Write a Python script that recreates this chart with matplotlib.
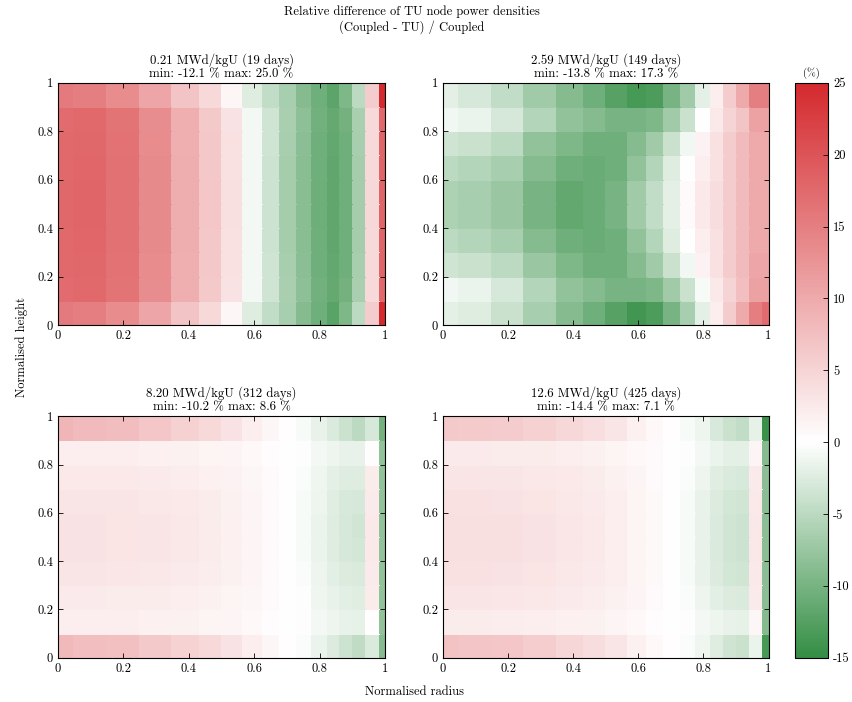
import numpy as np
import matplotlib
matplotlib.use('Agg')
import matplotlib.pyplot as plt
from matplotlib.colors import LinearSegmentedColormap, Normalize
from matplotlib.ticker import FormatStrFormatter

plt.rcParams['font.family'] = ['cmr10', 'DejaVu Serif']
plt.rcParams['mathtext.fontset'] = 'cm'
plt.rcParams['axes.formatter.use_mathtext'] = True
plt.rcParams['font.size'] = 9

# radial and axial node edges (normalised)
r_edges = [0, 0.05, 0.15, 0.25, 0.35, 0.433, 0.5, 0.567, 0.626, 0.679,
           0.73, 0.778, 0.824, 0.862, 0.902, 0.942, 0.984, 1.0]
z_edges = [0, 0.1, 0.2, 0.3, 0.4, 0.5, 0.6, 0.7, 0.8, 0.9, 1.0]

titles = ['0.21 MWd/kgU (19 days)', '2.59 MWd/kgU (149 days)',
          '8.20 MWd/kgU (312 days)', '12.6 MWd/kgU (425 days)']

# relative difference (%), rows from bottom (z=0) to top (z=1)
diff_021 = [
    [15.5, 15.0, 13.5, 10.5, 7.0, 4.5, 1.0, -2.5, -4.5, -6.5, -9.0, -10.5, -12.1, -9.5, -5.0, 6.0, 25.0],
    [17.3, 17.6, 16.3, 13.4, 9.4, 6.4, 3.4, -0.8, -3.5, -6.4, -8.4, -10.4, -11.4, -10.3, -6.4, 4.4, 17.5],
    [17.5, 17.8, 16.5, 13.5, 9.5, 6.5, 3.5, -0.8, -3.5, -6.5, -8.5, -10.5, -11.5, -10.5, -6.5, 4.5, 18.0],
    [17.6, 17.9, 16.6, 13.6, 9.6, 6.5, 3.5, -0.9, -3.6, -6.6, -8.6, -10.6, -11.6, -10.6, -6.6, 4.5, 18.0],
    [17.7, 18.0, 16.7, 13.7, 9.6, 6.6, 3.6, -0.9, -3.6, -6.6, -8.6, -10.7, -11.7, -10.6, -6.6, 4.6, 18.0],
    [17.7, 18.0, 16.7, 13.7, 9.6, 6.6, 3.6, -0.9, -3.6, -6.6, -8.6, -10.7, -11.7, -10.6, -6.6, 4.6, 18.0],
    [17.6, 17.9, 16.6, 13.6, 9.6, 6.5, 3.5, -0.9, -3.6, -6.6, -8.6, -10.6, -11.6, -10.6, -6.6, 4.5, 18.0],
    [17.5, 17.8, 16.5, 13.5, 9.5, 6.5, 3.5, -0.8, -3.5, -6.5, -8.5, -10.5, -11.5, -10.5, -6.5, 4.5, 18.0],
    [17.3, 17.6, 16.3, 13.4, 9.4, 6.4, 3.4, -0.8, -3.5, -6.4, -8.4, -10.4, -11.4, -10.3, -6.4, 4.4, 17.5],
    [15.5, 15.0, 13.5, 10.5, 7.0, 4.5, 1.0, -2.5, -4.5, -6.5, -9.0, -10.5, -12.0, -9.5, -5.0, 6.0, 25.0],
]
diff_259 = [
    [-2.0, -2.5, -4.0, -6.5, -9.0, -10.5, -12.5, -13.8, -13.0, -10.0, -6.5, -2.0, 2.0, 6.0, 10.0, 15.0, 17.3],
    [-1.0, -1.5, -3.0, -5.5, -8.0, -9.0, -10.0, -10.0, -9.5, -7.0, -4.0, -0.5, 2.5, 5.0, 7.5, 11.0, 11.0],
    [-3.5, -4.0, -5.0, -7.5, -9.5, -10.5, -10.5, -9.0, -7.0, -4.0, -1.0, 1.5, 3.5, 6.0, 8.0, 10.5, 10.5],
    [-5.0, -5.5, -6.5, -9.0, -10.5, -11.0, -10.5, -8.0, -5.5, -2.5, 0.0, 2.0, 3.5, 6.0, 8.0, 10.0, 10.0],
    [-6.0, -6.5, -7.5, -10.0, -11.5, -11.0, -10.0, -7.0, -4.5, -2.0, 0.5, 2.5, 4.0, 6.0, 8.0, 10.0, 10.0],
    [-6.0, -6.5, -7.5, -10.0, -11.5, -11.0, -10.0, -7.0, -4.5, -2.0, 0.5, 2.5, 4.0, 6.0, 8.0, 10.0, 10.0],
    [-5.0, -5.5, -6.5, -9.0, -10.5, -11.0, -10.5, -8.0, -5.5, -2.5, 0.0, 2.0, 3.5, 6.0, 8.0, 10.0, 10.0],
    [-3.5, -4.0, -5.0, -8.0, -9.5, -10.5, -10.5, -9.0, -7.0, -4.0, -1.0, 1.5, 3.5, 6.0, 8.0, 10.0, 10.0],
    [-1.0, -1.5, -3.0, -5.5, -8.0, -9.0, -10.0, -10.0, -9.5, -7.0, -4.0, 0.0, 2.5, 5.0, 7.0, 11.0, 11.0],
    [-2.0, -3.0, -4.5, -7.0, -9.0, -10.5, -12.5, -13.5, -13.0, -10.0, -7.0, -2.0, 2.0, 6.0, 10.0, 15.0, 15.0],
]
diff_820 = [
    [8.2, 7.6, 7.4, 6.4, 5.2, 4.4, 3.3, 2.0, 1.0, 0.2, -0.4, -1.5, -2.6, -3.6, -4.6, -2.8, -9.0],
    [2.0, 2.0, 1.9, 1.8, 1.6, 1.4, 1.2, 0.8, 0.4, 0.1, -0.2, -0.8, -1.3, -1.7, -1.8, 0.2, -8.0],
    [2.4, 2.4, 2.3, 2.2, 2.0, 1.7, 1.4, 1.0, 0.5, 0.1, -0.3, -1.1, -1.7, -2.1, -2.3, 2.2, -8.0],
    [3.0, 3.0, 2.9, 2.7, 2.4, 2.1, 1.7, 1.1, 0.6, 0.1, -0.4, -1.3, -2.1, -2.6, -2.8, 2.4, -8.0],
    [3.3, 3.3, 3.2, 3.0, 2.7, 2.3, 1.8, 1.2, 0.6, 0.1, -0.5, -1.5, -2.4, -3.0, -3.2, 2.5, -8.0],
    [3.3, 3.3, 3.2, 3.0, 2.7, 2.3, 1.8, 1.2, 0.6, 0.1, -0.5, -1.5, -2.5, -3.1, -3.3, 2.5, -8.0],
    [3.1, 3.1, 3.0, 2.8, 2.5, 2.2, 1.7, 1.1, 0.5, 0.0, -0.5, -1.4, -2.3, -2.9, -3.0, 2.4, -8.0],
    [2.6, 2.6, 2.5, 2.4, 2.1, 1.8, 1.5, 1.0, 0.5, 0.0, -0.4, -1.2, -1.9, -2.4, -2.5, 2.2, -8.0],
    [2.0, 2.0, 1.9, 1.8, 1.6, 1.4, 1.2, 0.8, 0.4, 0.1, -0.2, -0.8, -1.3, -1.6, -1.7, 0.4, -8.0],
    [8.6, 8.0, 7.8, 6.6, 5.4, 4.5, 3.4, 2.0, 1.0, 0.2, -0.5, -1.6, -2.8, -3.9, -4.9, -3.0, -10.2],
]
diff_126 = [
    [7.1, 6.8, 6.6, 5.8, 4.8, 4.0, 3.0, 1.8, 0.9, 0.2, -0.4, -1.2, -2.5, -3.5, -4.0, -1.5, -13.5],
    [2.2, 2.2, 2.1, 2.0, 1.8, 1.6, 1.2, 0.8, 0.4, 0.1, -0.2, -0.8, -1.3, -1.7, -1.8, 1.0, -9.0],
    [3.0, 3.0, 2.9, 2.7, 2.4, 2.1, 1.7, 1.1, 0.6, 0.1, -0.4, -1.3, -2.1, -2.6, -2.8, 2.4, -8.5],
    [3.5, 3.5, 3.4, 3.2, 2.8, 2.4, 1.9, 1.3, 0.7, 0.1, -0.5, -1.6, -2.6, -3.2, -3.4, 2.6, -8.5],
    [3.7, 3.7, 3.6, 3.3, 2.9, 2.5, 2.0, 1.3, 0.7, 0.1, -0.5, -1.7, -2.8, -3.4, -3.6, 2.7, -8.5],
    [3.7, 3.7, 3.6, 3.3, 2.9, 2.5, 2.0, 1.3, 0.7, 0.1, -0.5, -1.7, -2.8, -3.4, -3.6, 2.7, -8.5],
    [3.5, 3.5, 3.4, 3.2, 2.8, 2.4, 1.9, 1.3, 0.7, 0.1, -0.5, -1.6, -2.6, -3.2, -3.4, 2.6, -8.5],
    [3.1, 3.1, 3.0, 2.8, 2.5, 2.2, 1.7, 1.1, 0.6, 0.1, -0.4, -1.4, -2.2, -2.7, -2.9, 2.4, -8.5],
    [2.4, 2.4, 2.3, 2.2, 2.0, 1.7, 1.3, 0.9, 0.5, 0.1, -0.2, -0.9, -1.5, -1.9, -2.0, 1.2, -9.0],
    [6.4, 6.2, 6.0, 5.4, 4.6, 3.9, 3.0, 1.8, 0.9, 0.2, -0.5, -1.4, -2.9, -4.0, -4.4, -1.8, -14.4],
]

cmap = LinearSegmentedColormap.from_list(
    'gwr', [(0.0, '#348e44'), (0.375, '#ffffff'), (1.0, '#d42a2e')])
norm = Normalize(vmin=-15, vmax=25)

fig = plt.figure(figsize=(8.52, 7.02), dpi=100)
positions = [[0.068, 0.537, 0.384, 0.345], [0.520, 0.537, 0.382, 0.345],
             [0.068, 0.063, 0.384, 0.344], [0.520, 0.063, 0.382, 0.344]]

for pos, title, data in zip(positions, titles,
                            [diff_021, diff_259, diff_820, diff_126]):
    ax = fig.add_axes(pos)
    z = np.array(data)
    mesh = ax.pcolormesh(r_edges, z_edges, z, cmap=cmap, norm=norm,
                         shading='flat', edgecolors='face', linewidth=0.1)
    ax.set_xlim(0, 1)
    ax.set_ylim(0, 1)
    ax.set_xticks([0, 0.2, 0.4, 0.6, 0.8, 1])
    ax.set_yticks([0, 0.2, 0.4, 0.6, 0.8, 1])
    ax.xaxis.set_major_formatter(FormatStrFormatter('%g'))
    ax.yaxis.set_major_formatter(FormatStrFormatter('%g'))
    ax.tick_params(direction='in', top=True, right=True, length=3.5, width=0.6)
    for s in ax.spines.values():
        s.set_linewidth(0.8)
    ax.set_title(title + '\nmin: %.1f %% max: %.1f %%' % (z.min(), z.max()),
                 fontsize=9.2, pad=4, linespacing=1.15)

cax = fig.add_axes([0.933, 0.063, 0.039, 0.819])
cb = fig.colorbar(mesh, cax=cax, ticks=range(-15, 30, 5))
cb.ax.yaxis.set_major_formatter(FormatStrFormatter('%g'))
cb.ax.tick_params(direction='in', length=3.5, width=0.6)
cb.outline.set_linewidth(0.8)
cax.set_title('(%)', fontsize=7.5, pad=5)

fig.text(0.483, 0.992, 'Relative difference of TU node power densities\n'
         '(Coupled - TU) / Coupled', ha='center', va='top', linespacing=1.2)
fig.text(0.026, 0.506, 'Normalised height', rotation=90, ha='center', va='center')
fig.text(0.486, 0.015, 'Normalised radius', ha='center', va='center')

fig.savefig('out.png', dpi=100)
